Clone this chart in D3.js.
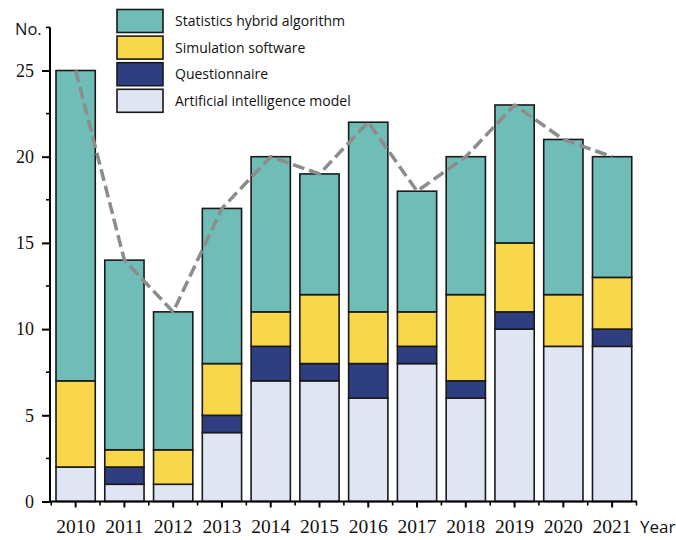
<!DOCTYPE html>
<html><head><meta charset="utf-8">
<script src="https://cdn.jsdelivr.net/npm/d3@7"></script>
<style>
body{margin:0;background:#fff;}
svg{display:block;}
</style></head>
<body>
<svg id="c" width="676" height="540"></svg>
<script>
const years = ["2010","2011","2012","2013","2014","2015","2016","2017","2018","2019","2020","2021"];
const aiModel      = [2,1,1,4,7,7,6,8,6,10,9,9];
const questionnaire= [0,1,0,1,2,1,2,1,1,1,0,1];
const simulation   = [5,1,2,3,2,4,3,2,5,4,3,3];
const statistics   = [18,11,8,9,9,7,11,7,8,8,9,7];
const seriesNames = ["Artificial intelligence model","Questionnaire","Simulation software","Statistics hybrid algorithm"];
const seriesColors = ["#dfe5f3","#2f3e80","#f8d74a","#6fbdb6"];
const yMajorTicks = [0,5,10,15,20,25];
const yMinorTicks = [2.5,7.5,12.5,17.5,22.5,27.5];

const svg = d3.select("#c");
const x = d3.scaleBand().domain(years).range([51.25,636.5]).paddingInner(0.195).paddingOuter(0.0975);
const y = d3.scaleLinear().domain([0,25]).range([501.5,70.5]);

const table = years.map((yr,i)=>({year:yr, ai:aiModel[i], q:questionnaire[i], sim:simulation[i], stat:statistics[i]}));
const keys = ["ai","q","sim","stat"];
const stacked = d3.stack().keys(keys)(table);

svg.append("g").selectAll("g").data(stacked).join("g")
  .attr("fill",(d,i)=>seriesColors[i])
  .selectAll("rect").data(d=>d.filter(p=>p[1]-p[0]>0)).join("rect")
  .attr("x",d=>x(d.data.year))
  .attr("y",d=>y(d[1]))
  .attr("width",x.bandwidth())
  .attr("height",d=>y(d[0])-y(d[1]))
  .attr("stroke","#1a1a1a").attr("stroke-width",1.6);

// total dashed line
const totals = table.map(d=>({year:d.year, total:d.ai+d.q+d.sim+d.stat}));
svg.append("path").datum(totals)
  .attr("fill","none").attr("stroke","#8c8c8c").attr("stroke-width",3.5)
  .attr("stroke-dasharray","12,5").attr("stroke-linejoin","round")
  .attr("d",d3.line().x(d=>x(d.year)+x.bandwidth()/2).y(d=>y(d.total)));

// Y axis
const yAxisG = svg.append("g").attr("transform","translate(50,0)");
yAxisG.call(d3.axisLeft(y).tickValues(yMajorTicks).tickSize(8).tickSizeOuter(0).tickPadding(8));
yAxisG.select(".domain").attr("d",`M0,${y(27.5)}V${y(0)}`).attr("stroke","#000").attr("stroke-width",2);
yAxisG.selectAll(".tick line").attr("stroke","#000").attr("stroke-width",2);
yAxisG.selectAll(".tick text").attr("font-family","'Liberation Serif',serif").attr("font-size",18).attr("fill","#111");
yAxisG.selectAll(".minor").data(yMinorTicks).join("line").attr("class","minor")
  .attr("x1",-4).attr("x2",0).attr("y1",d=>y(d)).attr("y2",d=>y(d)).attr("stroke","#000").attr("stroke-width",1.6);

// X axis
const xAxisG = svg.append("g").attr("transform",`translate(0,${y(0)})`);
xAxisG.call(d3.axisBottom(x).tickSize(6).tickSizeOuter(0).tickPadding(12));
xAxisG.select(".domain").attr("d",`M49,0H637`).attr("stroke","#000").attr("stroke-width",2);
xAxisG.selectAll(".tick line").attr("stroke","#000").attr("stroke-width",2);
xAxisG.selectAll(".tick text").attr("font-family","'Liberation Serif',serif").attr("font-size",19.5).attr("fill","#111");
const bounds = years.map(yr=>x(yr)-x.step()*x.paddingInner()/2).concat([x(years[years.length-1])+x.bandwidth()+x.step()*x.paddingInner()/2]);
xAxisG.selectAll(".minor").data(bounds).join("line").attr("class","minor")
  .attr("x1",d=>d).attr("x2",d=>d).attr("y1",0).attr("y2",4).attr("stroke","#000").attr("stroke-width",1.6);

// axis titles
svg.append("text").attr("x",15).attr("y",35).text("No.")
  .attr("font-family","'Open Sans',sans-serif").attr("font-size",16.5).attr("fill","#111");
svg.append("text").attr("x",640).attr("y",533).text("Year")
  .attr("font-family","'Open Sans',sans-serif").attr("font-size",17).attr("fill","#111");

// legend
const legendOrder = [3,2,1,0];
const lg = svg.append("g");
legendOrder.forEach((si,row)=>{
  const ly = 9.5 + row*26.6;
  lg.append("rect").attr("x",117).attr("y",ly).attr("width",46).attr("height",23)
    .attr("fill",seriesColors[si]).attr("stroke","#1a1a1a").attr("stroke-width",1.6);
  lg.append("text").attr("x",175).attr("y",ly+16.5).text(seriesNames[si])
    .attr("font-family","'Open Sans',sans-serif").attr("font-size",14).attr("fill","#111");
});
</script>
</body></html>
